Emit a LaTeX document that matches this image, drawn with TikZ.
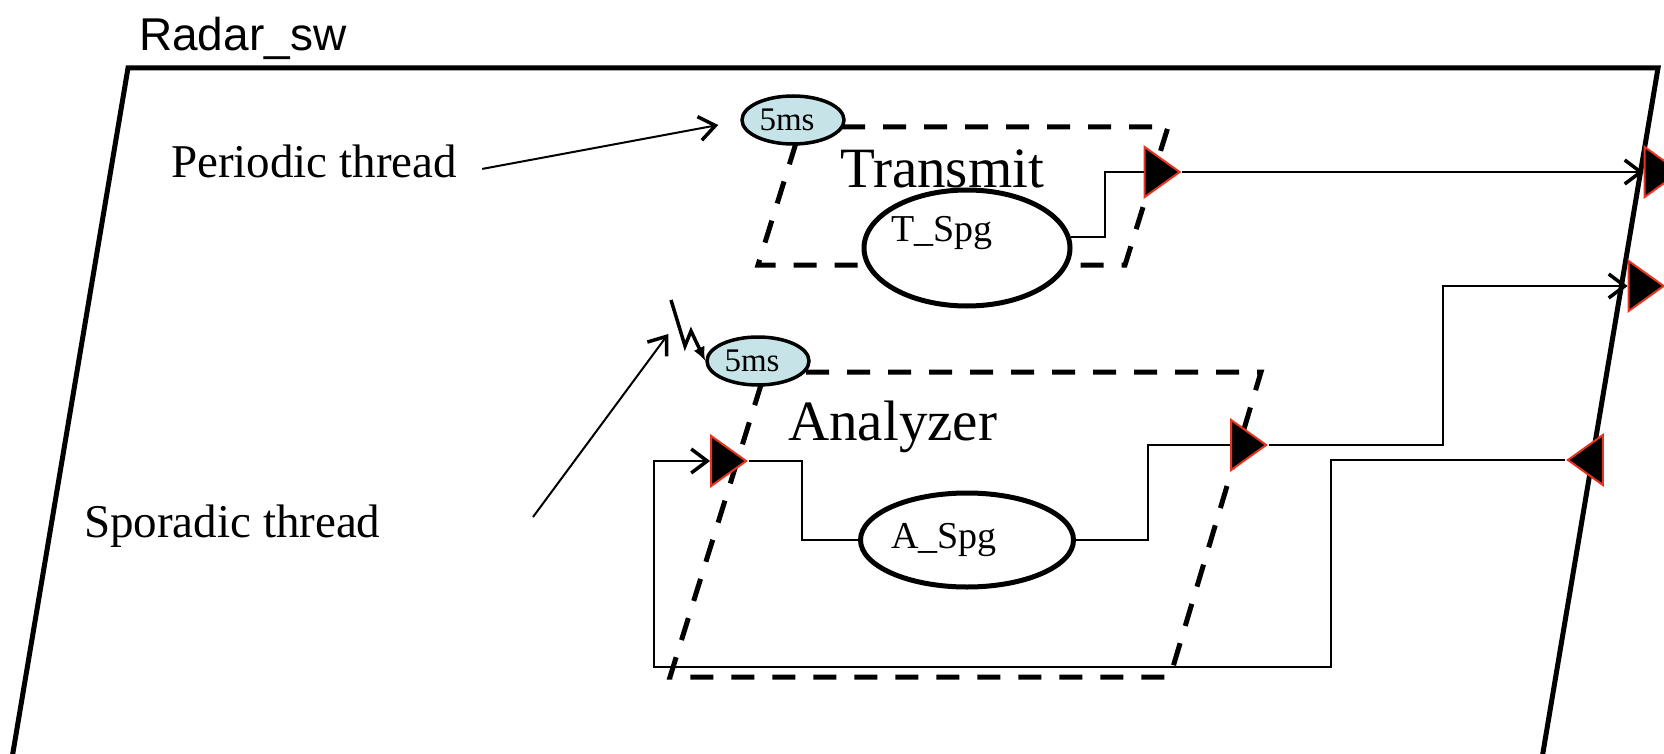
\documentclass[tikz,border=0pt]{standalone}
\usepackage{fontspec}
\setmainfont{Liberation Serif}
\newfontfamily\labelsans{Liberation Sans}
\usetikzlibrary{arrows.meta,shapes.geometric}
\definecolor{tickfill}{RGB}{198,228,232}
\definecolor{portred}{RGB}{232,52,30}
\begin{document}
\begin{tikzpicture}[x=1pt,y=-1pt,
  frame/.style={line width=5pt, line join=miter},
  threadbox/.style={line width=5pt, dash pattern=on 23pt off 18pt},
  spg/.style={ellipse, draw, line width=5pt, fill=white, inner sep=0pt,
    font=\fontsize{38}{45}\selectfont},
  tick/.style={ellipse, draw, line width=3.5pt, fill=tickfill, inner sep=0pt,
    minimum width=102pt, minimum height=48pt, font=\fontsize{33}{40}\selectfont},
  portR/.style={isosceles triangle, isosceles triangle stretches, fill=black,
    draw=portred, line width=2pt, inner sep=0pt, minimum width=50pt, minimum height=35pt},
  portL/.style={portR, shape border rotate=180},
  wire/.style={line width=2pt},
  flow/.style={wire, -{Straight Barb[length=16pt,width=24pt,line width=3.5pt]}},
  note/.style={anchor=base west, inner sep=0pt, font=\fontsize{47}{56}\selectfont},
  title/.style={anchor=base west, inner sep=0pt, font=\fontsize{57}{68}\selectfont},
]
\useasboundingbox (0,0) rectangle (1664,754);
\begin{scope}
\clip (0,0) rectangle (1664,754);

% system boundary
\draw[frame] (5,800) -- (128,68) -- (1658,68) -- (1535,800);
\node[anchor=base west, inner sep=0pt, font=\labelsans\fontsize{46}{54}\selectfont]
  (sys) at (139,51) {Radar\_sw};

% thread boundaries
\draw[threadbox] (801,127) -- (1168,127) -- (1125,265) -- (758,265) -- cycle;
\draw[threadbox] (765,372) -- (1261,372) -- (1170,677) -- (670,677) -- cycle;

% dispatch ticks and thread names
\node[tick] (tper) at (793,120) {5ms\kern12pt};
\node[tick] (aper) at (758,361) {5ms\kern12pt};
\node[title] (tname) at (840,187) {Transmit};
\node[title] (aname) at (788,440) {Analyzer};

% subprogram groups (labels sit left of centre)
\node[spg, minimum width=206pt, minimum height=116pt, text height=25pt, text depth=39pt]
  (tspg) at (967,248) {\kern-50pt T\_Spg};
\node[spg, minimum width=213pt, minimum height=94pt] (aspg) at (967,540) {\kern-46pt A\_Spg};

% ports
\node[portR] (tout) at (1157.5,172) {};
\node[portR] (sysout1) at (1657.5,172) {};
\node[portR] (sysout2) at (1641.5,286) {};
\node[portR] (aout) at (1244,445) {};
\node[portR] (ain) at (724,461) {};
\node[portL] (sysin) at (1590,460) {};

% wire bends
\coordinate (tbend) at (1105,172);
\coordinate (abend1) at (802,540);
\coordinate (abend2) at (1148,445);
\coordinate (obend2) at (1443,286);
\coordinate (fbend1) at (1331,667);
\coordinate (fbend2) at (654,461);

% connections
\draw[wire] (tspg.6) -| (tbend) -- (tout.west);
\draw[flow] (tout.east) -- (sysout1.west);
\draw[wire] (ain.east) -| (abend1) -- (aspg.west);
\draw[wire] (aspg.east) -| (abend2) -- (aout.west);
\draw[flow] (aout.east) -| (obend2) -- (sysout2.west);
\draw[flow] (sysin.west) -| (fbend1) -| (fbend2) -- (ain.west);

% annotations
\node[note] (ptext) at (171,178) {Periodic thread};
\draw[flow] ([xshift=25pt,yshift=-7pt]ptext.east) -- ([xshift=-22pt,yshift=-5pt]tper.west);
\node[note] (stext) at (84,537) {Sporadic thread};
\coordinate (sstart) at (533,517);
\draw[flow] (sstart) -- ([xshift=-37pt,yshift=27pt]aper.west);

% sporadic trigger
\coordinate (lstart) at (671,300);
\draw[line width=3.5pt, -{Latex[length=14pt,width=12pt]}]
  (lstart) -- (685,346) -- (691,331) -- (aper.west);
\end{scope}
\end{tikzpicture}
\end{document}
